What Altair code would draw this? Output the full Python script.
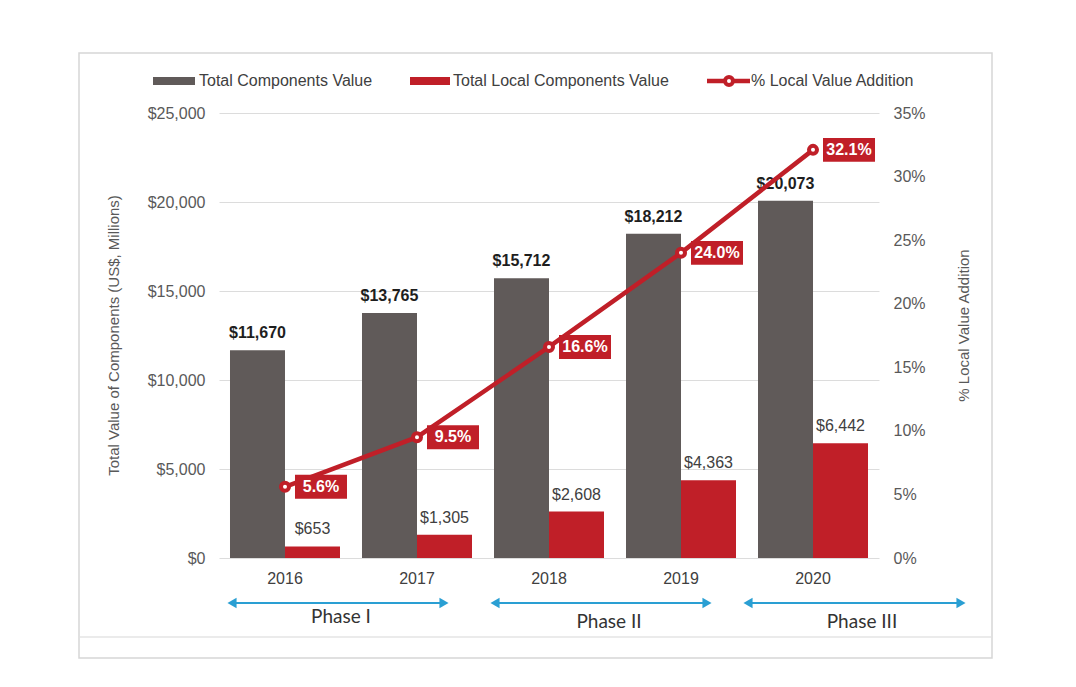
import altair as alt
import pandas as pd

# ---------------- data ----------------
years = ["2016", "2017", "2018", "2019", "2020"]
total_values = [11670, 13765, 15712, 18212, 20073]
local_values = [653, 1305, 2608, 4363, 6442]
pct_local = [5.6, 9.5, 16.6, 24.0, 32.1]
series_names = ["Total Components Value", "Total Local Components Value", "% Local Value Addition"]
left_ticks = [0, 5000, 10000, 15000, 20000, 25000]
right_ticks = [0, 5, 10, 15, 20, 25, 30, 35]
phase_names = ["Phase I", "Phase II", "Phase III"]
left_title = "Total Value of Components (US$, Millions)"
right_title = "% Local Value Addition"

# ---------------- styles ----------------
GRAY = "#605a59"
RED = "#c01f28"
BLUE = "#2a9fd3"
FONT = "Liberation Sans"

bars_df = pd.DataFrame({
    "year": years * 2,
    "series": [series_names[0]] * len(years) + [series_names[1]] * len(years),
    "value": total_values + local_values,
})
bars_df["label"] = ["$" + format(v, ",") for v in bars_df["value"]]
pct_df = pd.DataFrame({"year": years, "pct": pct_local})
pct_df["label"] = [format(v, ".1f") + "%" for v in pct_local]

x_enc = alt.X(
    "year:N",
    scale=alt.Scale(domain=years, paddingInner=0.1667, paddingOuter=0.0833),
    axis=alt.Axis(title=None, labelAngle=0, ticks=False, domain=False, grid=False, labelPadding=12,
                  labelFontSize=16, labelColor="#404040", labelFont=FONT),
)
xoff_enc = alt.XOffset("series:N", scale=alt.Scale(domain=series_names[:2], paddingInner=0, paddingOuter=0))
y_left = alt.Y(
    "value:Q",
    scale=alt.Scale(domain=[0, 25000], nice=False),
    axis=alt.Axis(values=left_ticks, labelExpr="'$' + format(datum.value, ',')",
                  title=left_title, titleX=-106, titleY=222, titleAngle=270,
                  titleBaseline="middle", titleAlign="center", titleFontSize=15,
                  titleFontWeight="normal", titleColor="#595959", titleFont=FONT,
                  grid=True, gridColor="#dcdcdc", domain=False, ticks=False,
                  labelPadding=14, labelFontSize=16, labelColor="#595959", labelFont=FONT),
)
y_right = alt.Y(
    "pct:Q",
    scale=alt.Scale(domain=[0, 35], nice=False),
    axis=alt.Axis(orient="right", values=right_ticks, labelExpr="datum.value + '%'",
                  title=right_title, titleX=84, titleY=212, titleAngle=270,
                  titleBaseline="middle", titleAlign="center", titleFontSize=15,
                  titleFontWeight="normal", titleColor="#595959", titleFont=FONT,
                  grid=False, domain=False, ticks=False,
                  labelPadding=14, labelFontSize=16, labelColor="#595959", labelFont=FONT),
)

# ---------------- bars group ----------------
bars_base = alt.Chart(bars_df)
bars = bars_base.mark_bar().encode(
    x=x_enc, xOffset=xoff_enc, y=y_left,
    color=alt.Color("series:N", scale=alt.Scale(domain=series_names[:2], range=[GRAY, RED]), legend=None),
)
total_labels = bars_base.transform_filter(alt.datum.series == series_names[0]).mark_text(
    fontSize=16, fontWeight="bold", color="#1e1e1e", baseline="middle", dy=-17, font=FONT
).encode(x=x_enc, xOffset=xoff_enc, y=y_left, text="label:N")
local_labels = bars_base.transform_filter(alt.datum.series == series_names[1]).mark_text(
    fontSize=16, color="#404040", baseline="middle", dy=-17, font=FONT
).encode(x=x_enc, xOffset=xoff_enc, y=y_left, text="label:N")
left_group = alt.layer(bars, total_labels, local_labels)

# ---------------- line group ----------------
line_base = alt.Chart(pct_df)
line = line_base.mark_line(color=RED, strokeWidth=4.5).encode(x=x_enc, y=y_right)
pts = line_base.mark_point(shape="circle", filled=True, fill="white", stroke=RED,
                           strokeWidth=4, size=64, opacity=1).encode(x=x_enc, y=y_right)
box_path = "M-1,-0.46H1V0.46H-1Z"
boxes = line_base.mark_point(shape=box_path, filled=True, fill=RED, strokeWidth=0,
                             size=2704, opacity=1, xOffset=36).encode(x=x_enc, y=y_right)
box_text = line_base.mark_text(fontSize=16, fontWeight="bold", color="white", align="center",
                               baseline="middle", xOffset=36, font=FONT).encode(x=x_enc, y=y_right, text="label:N")
right_group = alt.layer(line, pts, boxes, box_text)

# ---------------- decorations ----------------
one = alt.Chart(pd.DataFrame({"k": [0]}))
frame = one.mark_rect(fill="transparent", stroke="#d6d6d6", strokeWidth=1.5).encode(
    x=alt.value(-140), x2=alt.value(773), y=alt.value(-60), y2=alt.value(545))
strip_line = one.mark_rule(color="#e4e4e4", strokeWidth=1.5).encode(
    x=alt.value(-139), x2=alt.value(772), y=alt.value(524))

# legend
leg_gray = one.mark_rect(fill=GRAY).encode(x=alt.value(-66), x2=alt.value(-24), y=alt.value(-36), y2=alt.value(-28))
leg_red = one.mark_rect(fill=RED).encode(x=alt.value(191), x2=alt.value(231), y=alt.value(-36), y2=alt.value(-28))
leg_line = one.mark_rule(color=RED, strokeWidth=4.5).encode(x=alt.value(488), x2=alt.value(531), y=alt.value(-32))
leg_pt = one.mark_point(shape="circle", filled=True, fill="white", stroke=RED, strokeWidth=4,
                        size=64, opacity=1).encode(x=alt.value(510), y=alt.value(-32))
leg_texts = []
for xpos, name in zip([-20, 234, 532], series_names):
    leg_texts.append(one.mark_text(fontSize=16, color="#404040", align="left", baseline="middle", font=FONT)
                     .encode(x=alt.value(xpos), y=alt.value(-32), text=alt.value(name)))

# phase arrows
arrow_layers = []
for (x0, x1), name, tx, ty in zip([(8, 230), (271, 493), (524, 747)], phase_names,
                                  [122, 390, 643], [504, 509, 509]):
    arrow_layers.append(one.mark_rule(color=BLUE, strokeWidth=2).encode(
        x=alt.value(x0 + 4), x2=alt.value(x1 - 4), y=alt.value(490)))
    arrow_layers.append(one.mark_point(shape="triangle-left", filled=True, fill=BLUE, size=110,
                                       opacity=1, strokeWidth=0).encode(x=alt.value(x0 + 5), y=alt.value(490)))
    arrow_layers.append(one.mark_point(shape="triangle-right", filled=True, fill=BLUE, size=110,
                                       opacity=1, strokeWidth=0).encode(x=alt.value(x1 - 5), y=alt.value(490)))
    arrow_layers.append(one.mark_text(fontSize=19, color="#333333", font="Lato", align="center",
                                      baseline="middle").encode(x=alt.value(tx), y=alt.value(ty), text=alt.value(name)))

chart = alt.layer(
    frame, strip_line,
    left_group, right_group,
    leg_gray, leg_red, leg_line, leg_pt, *leg_texts,
    *arrow_layers,
).resolve_scale(y="independent").properties(
    width=660, height=445,
    padding={"left": 219, "top": 113, "right": 197, "bottom": 129},
    autosize=alt.AutoSizeParams(type="none"),
    background="white",
).configure(font=FONT).configure_view(stroke=None, strokeWidth=0)

chart.save("out.html", embed_options={"renderer": "svg", "actions": False})
